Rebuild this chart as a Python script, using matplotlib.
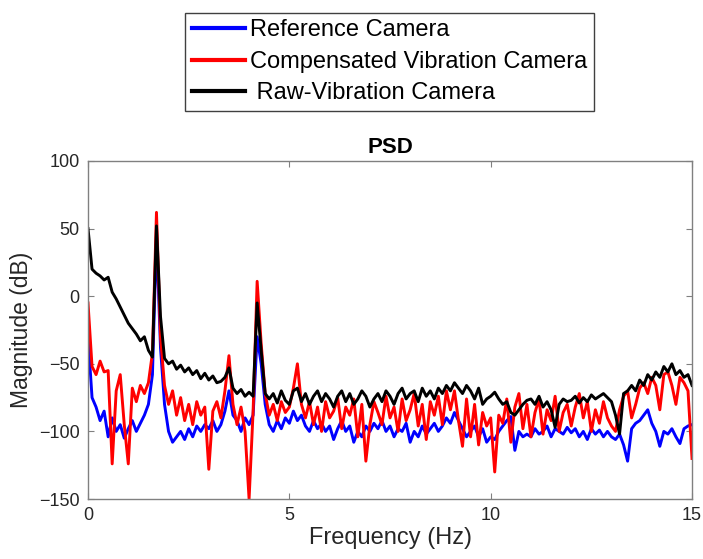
import numpy as np
import matplotlib
matplotlib.use('Agg')
import matplotlib.pyplot as plt

plt.rcParams['font.family'] = ['Liberation Sans', 'DejaVu Sans']

# frequency grid (Hz), 0.1 Hz spacing
freq = np.linspace(0, 15, 151)

# PSD magnitudes (dB)
ref_cam = [
    -30, -75, -82, -92, -85, -104, -90, -100, -95, -105,
    -98, -92, -100, -94, -88, -80, -58, 45, -38, -80,
    -100, -108, -104, -100, -106, -98, -104, -96, -100, -95,
    -98, -92, -100, -95, -85, -70, -88, -92, -100, -90,
    -95, -88, -30, -50, -80, -95, -100, -92, -98, -90,
    -94, -85, -92, -88, -96, -100, -92, -98, -94, -100,
    -96, -106, -98, -92, -100, -96, -108, -100, -104, -96,
    -100, -94, -98, -92, -100, -96, -104, -98, -100, -94,
    -108, -100, -104, -96, -102, -98, -94, -100, -96, -90,
    -94, -86, -92, -98, -104, -100, -96, -104, -98, -108,
    -104, -106, -100, -96, -92, -89, -114, -100, -104, -102,
    -104, -98, -102, -100, -96, -104, -98, -100, -102, -97,
    -101, -98, -104, -100, -106, -98, -102, -99, -104, -100,
    -104, -106, -102, -110, -122, -98, -94, -92, -88, -84,
    -94, -100, -111, -100, -102, -98, -104, -109, -98, -96,
    -95,
]

comp_cam = [
    -5, -52, -58, -48, -56, -55, -124, -70, -58, -95,
    -124, -68, -78, -66, -72, -64, -42, 62, -30, -66,
    -80, -70, -88, -75, -92, -80, -95, -78, -88, -82,
    -128, -85, -78, -90, -70, -44, -80, -95, -82, -100,
    -150, -85, 11, -35, -72, -88, -80, -92, -78, -86,
    -82, -68, -50, -80, -90, -78, -95, -82, -100, -78,
    -90, -85, -75, -98, -82, -88, -76, -104, -80, -122,
    -95, -78, -86, -95, -74, -90, -82, -100, -76, -92,
    -84, -72, -96, -80, -106, -78, -88, -74, -95, -70,
    -84, -70, -92, -111, -76, -104, -80, -110, -86, -96,
    -90, -130, -88, -94, -76, -108, -82, -72, -98, -80,
    -104, -86, -76, -102, -84, -92, -74, -100, -86, -80,
    -96, -82, -72, -90, -78, -100, -84, -94, -78, -90,
    -96, -100, -84, -74, -70, -90, -80, -68, -64, -72,
    -60, -66, -84, -58, -56, -66, -80, -60, -64, -70,
    -120,
]

raw_cam = [
    50, 20, 17, 15, 12, 14, 3, -2, -8, -14,
    -20, -24, -28, -33, -30, -40, -45, 52, -15, -46,
    -50, -48, -54, -51, -56, -53, -58, -55, -61, -57,
    -62, -59, -64, -63, -60, -53, -68, -72, -69, -74,
    -71, -74, -5, -40, -72, -76, -72, -79, -70, -77,
    -80, -70, -68, -78, -72, -80, -74, -70, -78, -72,
    -76, -82, -74, -70, -78, -72, -80, -76, -70, -74,
    -82, -76, -72, -78, -70, -74, -80, -72, -68, -76,
    -72, -70, -78, -68, -74, -70, -76, -68, -72, -66,
    -70, -64, -68, -72, -66, -70, -76, -68, -80, -76,
    -74, -71, -76, -80, -78, -86, -88, -84, -80, -77,
    -76, -80, -74, -82, -78, -84, -97, -80, -76, -78,
    -77, -74, -79, -75, -78, -73, -76, -74, -72, -75,
    -78, -88, -102, -72, -70, -66, -70, -62, -66, -58,
    -62, -56, -60, -52, -56, -50, -58, -55, -60, -58,
    -66,
]

labels = ['Reference Camera', 'Compensated Vibration Camera', ' Raw-Vibration Camera']
colors = ['#0000ff', '#ff0000', '#000000']

fig = plt.figure(figsize=(7.03, 5.59), dpi=100)
ax = fig.add_axes([0.1252, 0.1073, 0.8592, 0.6047])

lines = []
for vals, c, lab in zip([ref_cam, comp_cam, raw_cam], colors, labels):
    ln, = ax.plot(freq, vals, color=c, lw=2.1, label=lab)
    lines.append(ln)

ax.set_xlim(0, 15)
ax.set_ylim(-150, 100)
ax.set_xticks([0, 5, 10, 15])
ax.set_yticks([-150, -100, -50, 0, 50, 100])
ax.tick_params(direction='in', length=4, width=0.8, colors='#808080',
               labelcolor='#262626', labelsize=13, top=True, right=True, pad=6)
for s in ax.spines.values():
    s.set_color('#808080')
    s.set_linewidth(1.0)

ax.set_title('PSD', fontsize=16, fontweight='bold', pad=6)
ax.set_xlabel('Frequency (Hz)', fontsize=17, color='#262626', labelpad=2)
ax.set_ylabel('Magnitude (dB)', fontsize=16.5, color='#262626', labelpad=4)

leg = fig.legend(handles=lines, labels=labels, loc='upper center',
                 bbox_to_anchor=(0.554, 0.977), fontsize=17,
                 handlelength=2.25, handletextpad=0.2, labelspacing=0.4,
                 borderpad=0.28, borderaxespad=0, fancybox=False,
                 framealpha=1, edgecolor='#404040')
leg.get_frame().set_linewidth(1.0)
for h in leg.legend_handles:
    h.set_linewidth(3)

fig.savefig('out.png', dpi=100)
